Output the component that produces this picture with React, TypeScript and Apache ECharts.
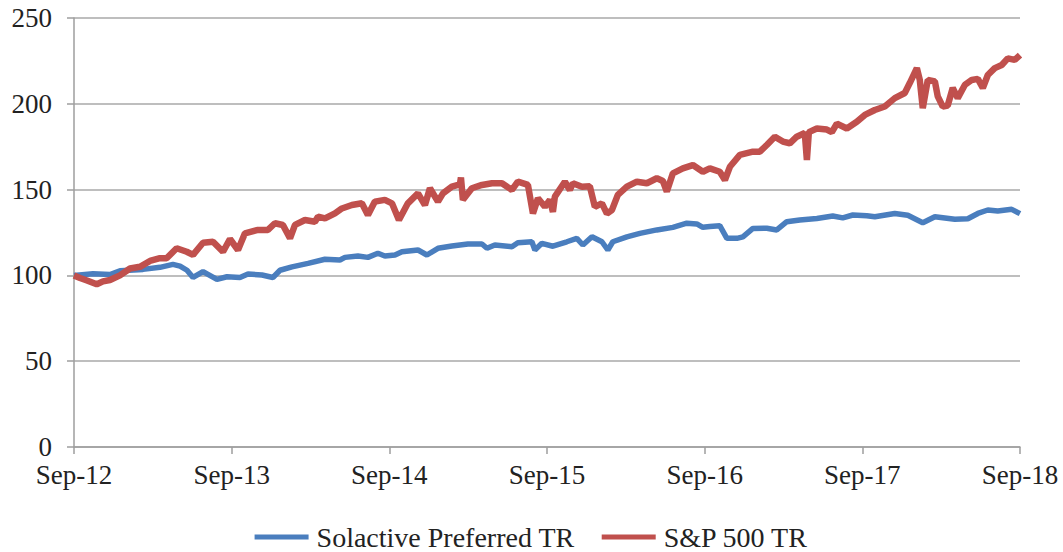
import React, { useEffect, useRef } from "react";
import * as echarts from "echarts";

const xTickLabels = ["Sep-12", "Sep-13", "Sep-14", "Sep-15", "Sep-16", "Sep-17", "Sep-18"];
const seriesNames = ["Solactive Preferred TR", "S&P 500 TR"];

// x = months since Sep-12
const preferredMonths = [
  0, 1.45, 2.74, 3.5, 5.25, 6.54, 7.53, 8.07, 8.6, 9.06, 9.82, 10.88, 11.64, 12.63, 13.24, 14.31,
  15.14, 15.68, 16.59, 17.81, 19.1, 20.24, 20.62, 21.61, 22.37, 23.13, 23.66, 24.43, 24.96, 26.18,
  26.86, 27.7, 28.76, 29.98, 31.05, 31.43, 32.03, 33.33, 33.78, 34.85, 35.08, 35.61, 36.45, 37.51,
  38.27, 38.73, 39.42, 40.18, 40.63, 41.01, 42.08, 43.07, 44.36, 45.58, 46.64, 47.4, 47.86, 48.39,
  49.15, 49.69, 50.45, 50.91, 51.67, 52.73, 53.49, 54.25, 55.24, 56.54, 57.75, 58.51, 59.28, 60.34,
  60.95, 62.47, 63.46, 64.6, 65.52, 67.04, 68.03, 68.79, 69.55, 70.31, 71.37, 72,
];
const preferredValues = [
  100, 101, 100.5, 102.7, 103.5, 104.7, 106.4, 105.4, 103, 98.8, 102.2, 97.7, 99.2, 98.8, 100.8, 100.2,
  98.8, 103, 105, 107, 109.4, 109, 110.5, 111.3, 110.5, 112.9, 111.3, 111.9, 113.8, 114.8,
  111.9, 115.8, 117.1, 118.3, 118.3, 115.8, 117.7, 116.7, 119, 119.6, 114.8, 118.7, 117, 119.6,
  121.6, 117.7, 122.5, 119.6, 114.8, 119.6, 122.5, 124.5, 126.5, 128, 130.4, 130, 128, 128.5,
  129, 121.6, 121.6, 122.5, 127.4, 127.5, 126.5, 131.3, 132.3, 133.2, 134.6, 133.5, 135.2, 134.8,
  134.2, 136.1, 135, 130.7, 134.2, 132.7, 133, 136.1, 138.1, 137.5, 138.5, 136,
];

const spMonths = [
  0, 0.46, 0.99, 1.73, 2.21, 2.74, 3.5, 4.26, 5.02, 5.78, 6.54, 7.05, 7.81, 8.58, 9.06, 9.82, 10.58,
  11.34, 11.87, 12.48, 13.01, 14.0, 14.76, 15.29, 15.9, 16.44, 16.82, 17.58, 18.34, 18.57, 19.1,
  19.86, 20.39, 21.15, 21.91, 22.37, 22.9, 23.66, 24.2, 24.73, 25.41, 26.18, 26.71, 27.09, 27.7,
  28.08, 28.76, 29.37, 29.45, 29.6, 30.28, 31.05, 31.81, 32.57, 33.33, 33.78, 34.55, 34.93, 35.31,
  35.84, 36.22, 36.45, 36.6, 37.36, 37.74, 37.97, 38.66, 39.26, 39.64, 40.18, 40.56, 40.94, 41.39,
  42.08, 42.84, 43.6, 44.36, 44.82, 45.12, 45.58, 46.34, 47.1, 47.86, 48.39, 49.15, 49.54, 49.92,
  50.68, 51.67, 52.2, 52.73, 53.34, 53.95, 54.48, 55.01, 55.62, 55.78, 55.93, 56.54, 57.3, 57.68,
  58.06, 58.82, 59.58, 60.19, 60.95, 61.71, 62.47, 63.23, 63.61, 64.15, 64.37, 64.6, 64.98, 65.52,
  65.74, 66.12, 66.5, 66.88, 67.26, 67.8, 68.33, 68.79, 69.17, 69.55, 70.08, 70.61, 71.07, 71.6, 72,
];
const spValues = [
  100, 98.5, 97, 94.8, 96.5, 97.3, 100, 104, 105, 108.4, 110, 110, 115.8, 113.8, 112, 119, 119.6,
  113.8, 121.2, 114.8, 124.5, 126.5, 126.5, 130.4, 129.4, 121.6, 129.4, 132.3, 131.3, 134.2, 133.2,
  136.1, 139, 141, 142, 135.2, 143, 144, 142, 132.3, 142, 147.8, 141, 150.8, 143,
  147.8, 151.7, 153, 157, 144, 150.8, 152.7, 153.7, 153.7, 149.8, 154.6, 152.7, 136.1, 145,
  140, 144, 137, 145.9, 154.6, 149.8, 153.7, 151.7, 152, 140, 142, 136, 138, 146.9,
  151.7, 154.6, 153.7, 156.6, 155, 148.9, 159.5, 162.4, 164.3, 160.4, 162.4, 160.4, 155.6, 163.3,
  170.2, 172.1, 172.1, 176, 180.8, 178, 177, 180.8, 183, 167.2, 183.5, 185.6, 185, 183.5,
  188.5, 185.6, 189.5, 193.5, 196.4, 198.4, 203.3, 206.3, 212.1, 220.8, 214, 197.4, 213.9, 213,
  204.3, 198.4, 199, 209.2, 203.3, 211, 213.9, 214.5, 209.2, 216.8, 220.8, 222.6, 226.5, 225.6, 228.4,
];

const FONT = "'Liberation Serif', 'Times New Roman', serif";

export default function App() {
  const ref = useRef<HTMLDivElement>(null);
  useEffect(() => {
    document.body.style.margin = "0";
    if (!ref.current) return;
    const chart = echarts.init(ref.current, null, { renderer: "svg" });
    const pair = (xs: number[], ys: number[]) => xs.map((x, i) => [x, ys[i]]);
    chart.setOption({
      animation: false,
      backgroundColor: "#ffffff",
      textStyle: { fontFamily: FONT },
      grid: { left: 74, right: 43, top: 18, bottom: 105 },
      legend: {
        data: seriesNames,
        left: "center",
        top: 518,
        icon: "rect",
        itemWidth: 54,
        itemHeight: 5,
        itemGap: 27,
        textStyle: { fontFamily: FONT, fontSize: 28, color: "#222", padding: [0, 0, 0, 3] },
      },
      xAxis: {
        type: "value",
        min: 0,
        max: 72,
        interval: 12,
        axisLine: { show: true, lineStyle: { color: "#9e9e9e", width: 1.5 } },
        axisTick: { show: true, length: 7, lineStyle: { color: "#9e9e9e", width: 1.5 } },
        splitLine: { show: false },
        axisLabel: {
          fontFamily: FONT,
          fontSize: 27,
          color: "#222",
          margin: 14,
          formatter: (v: number) => xTickLabels[Math.round(v / 12)] ?? "",
        },
      },
      yAxis: {
        type: "value",
        min: 0,
        max: 250,
        interval: 50,
        axisLine: { show: true, lineStyle: { color: "#9e9e9e", width: 1.5 } },
        axisTick: { show: true, length: 7, lineStyle: { color: "#9e9e9e", width: 1.5 } },
        splitLine: { show: true, lineStyle: { color: "#a8a8a8", width: 1.5 } },
        axisLabel: { fontFamily: FONT, fontSize: 27, color: "#222", margin: 22 },
      },
      series: [
        {
          name: seriesNames[0],
          type: "line",
          data: pair(preferredMonths, preferredValues),
          symbol: "none",
          showSymbol: false,
          lineStyle: { color: "#4A7EBE", width: 5.5 },
          itemStyle: { color: "#4A7EBE" },
        },
        {
          name: seriesNames[1],
          type: "line",
          data: pair(spMonths, spValues),
          symbol: "none",
          showSymbol: false,
          lineStyle: { color: "#C0504D", width: 6.5 },
          itemStyle: { color: "#C0504D" },
        },
      ],
    });
    return () => chart.dispose();
  }, []);
  return <div ref={ref} style={{ width: 1063, height: 552 }} />;
}
